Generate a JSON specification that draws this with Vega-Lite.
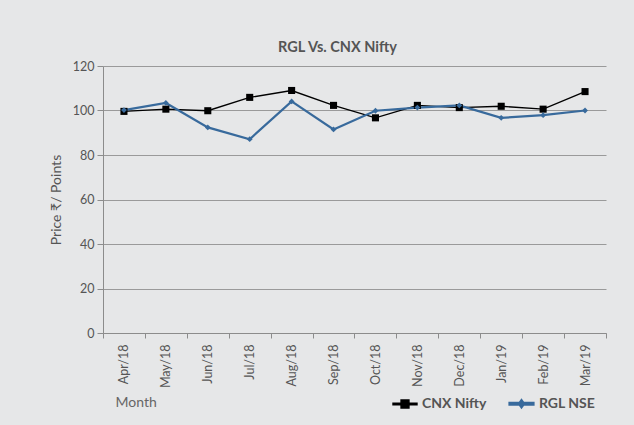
{
  "$schema": "https://vega.github.io/schema/vega-lite/v6.json",
  "width": 503,
  "height": 267,
  "autosize": "none",
  "padding": {"left": 103, "top": 66, "right": 28, "bottom": 92},
  "background": "#e6e7e8",
  "config": {
    "font": "Lato",
    "view": {"stroke": null},
    "axis": {"labelColor": "#555555", "titleColor": "#555555", "domainColor": "#8c8c8c", "tickColor": "#8c8c8c", "gridColor": "#9a9a9a", "labelFontSize": 12.5, "titleFontWeight": "normal", "titleFontSize": 14}
  },
  "title": {"text": "RGL Vs. CNX Nifty", "fontSize": 14.5, "fontWeight": "bold", "color": "#555555", "anchor": "middle", "dx": -17, "offset": 5},
  "data": {
    "values": [
      {"month": "Apr/18", "series": "CNX Nifty", "value": 99.6},
      {"month": "May/18", "series": "CNX Nifty", "value": 100.6},
      {"month": "Jun/18", "series": "CNX Nifty", "value": 99.9},
      {"month": "Jul/18", "series": "CNX Nifty", "value": 105.9},
      {"month": "Aug/18", "series": "CNX Nifty", "value": 109.0},
      {"month": "Sep/18", "series": "CNX Nifty", "value": 102.3},
      {"month": "Oct/18", "series": "CNX Nifty", "value": 96.7},
      {"month": "Nov/18", "series": "CNX Nifty", "value": 102.3},
      {"month": "Dec/18", "series": "CNX Nifty", "value": 101.3},
      {"month": "Jan/19", "series": "CNX Nifty", "value": 101.9},
      {"month": "Feb/19", "series": "CNX Nifty", "value": 100.6},
      {"month": "Mar/19", "series": "CNX Nifty", "value": 108.5},
      {"month": "Apr/18", "series": "RGL NSE", "value": 100.2},
      {"month": "May/18", "series": "RGL NSE", "value": 103.4},
      {"month": "Jun/18", "series": "RGL NSE", "value": 92.4},
      {"month": "Jul/18", "series": "RGL NSE", "value": 87.1},
      {"month": "Aug/18", "series": "RGL NSE", "value": 104.1},
      {"month": "Sep/18", "series": "RGL NSE", "value": 91.5},
      {"month": "Oct/18", "series": "RGL NSE", "value": 99.9},
      {"month": "Nov/18", "series": "RGL NSE", "value": 101.3},
      {"month": "Dec/18", "series": "RGL NSE", "value": 102.3},
      {"month": "Jan/19", "series": "RGL NSE", "value": 96.7},
      {"month": "Feb/19", "series": "RGL NSE", "value": 97.9},
      {"month": "Mar/19", "series": "RGL NSE", "value": 100.0}
    ]
  },
  "encoding": {
    "x": {
      "field": "month", "type": "ordinal", "sort": null,
      "scale": {"type": "band", "paddingInner": 0, "paddingOuter": 0},
      "axis": {"labelAngle": -90, "tickBand": "extent", "tickSize": 5, "labelPadding": 6, "grid": false,
        "title": "Month", "titleAnchor": "start", "titleAlign": "left", "titleBaseline": "middle", "titleX": 12, "titleY": 69, "titleColor": "#666666", "titleFontSize": 14}
    },
    "y": {
      "field": "value", "type": "quantitative",
      "scale": {"domain": [0, 120], "nice": false},
      "axis": {"values": [0, 20, 40, 60, 80, 100, 120], "tickSize": 6, "labelPadding": 3, "title": "Price ₹/ Points", "titlePadding": 9, "grid": true}
    },
    "color": {
      "field": "series", "type": "nominal",
      "scale": {"domain": ["CNX Nifty", "RGL NSE"], "range": ["#000000", "#386a9c"]},
      "legend": {
        "title": null, "orient": "none", "direction": "horizontal", "legendX": 289, "legendY": 324,
        "padding": 0, "symbolSize": 576, "symbolStrokeWidth": 0, "labelFontSize": 14, "labelFontWeight": "bold", "labelColor": "#555555", "labelOffset": 4, "columnPadding": 18,
        "encode": {
          "symbols": {
            "update": {
              "shape": {"signal": "datum.value === 'CNX Nifty' ? 'M-1,-0.065H1V0.065H-1Z M-0.33,-0.33H0.33V0.33H-0.33Z' : 'M-1,-0.075H1V0.075H-1Z M0,-0.3L0.22,0L0,0.3L-0.22,0Z'"},
              "fill": {"signal": "datum.value === 'CNX Nifty' ? '#000000' : '#386a9c'"},
              "fillOpacity": {"value": 1},
              "strokeWidth": {"value": 0}
            }
          }
        }
      }
    }
  },
  "layer": [
    {
      "mark": {"type": "line"},
      "encoding": {
        "strokeWidth": {"field": "series", "type": "nominal", "scale": {"domain": ["CNX Nifty", "RGL NSE"], "range": [1.4, 2.2]}, "legend": null}
      }
    },
    {
      "transform": [{"filter": "datum.series === 'CNX Nifty'"}],
      "mark": {"type": "point", "filled": true, "opacity": 1, "shape": "square", "size": 50}
    },
    {
      "transform": [{"filter": "datum.series === 'RGL NSE'"}],
      "mark": {"type": "point", "filled": true, "opacity": 1, "shape": "diamond", "size": 34}
    }
  ]
}
